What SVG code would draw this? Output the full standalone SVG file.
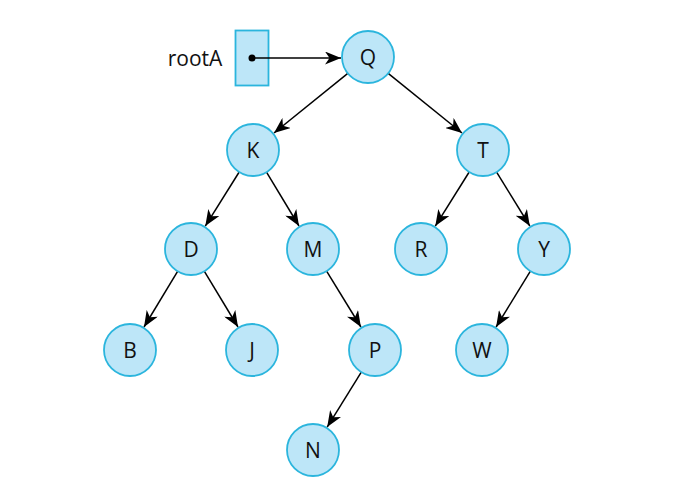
<svg xmlns="http://www.w3.org/2000/svg" width="700" height="498" viewBox="0 0 700 498">
<defs>
<marker id="ah" markerUnits="userSpaceOnUse" markerWidth="17" markerHeight="13" viewBox="0 0 17 13" refX="16" refY="6.5" orient="auto">
<path d="M0,0 L16,6.5 L0,13 L4.5,6.5 Z" fill="#000"/>
</marker>
<style>
.n circle{fill:#bde6f8;stroke:#2bb5dd;stroke-width:1.8}
.n text,.lbl{font-family:"Open Sans","Noto Sans","Liberation Sans",sans-serif;font-size:21px;fill:#111;text-anchor:middle;dominant-baseline:central}
.e line{stroke:#000;stroke-width:1.5;marker-end:url(#ah)}
</style>
</defs>
<rect width="700" height="498" fill="#fff"/>
<g id="rootA">
<text class="lbl" x="195" y="58">rootA</text>
<rect x="235.5" y="30.5" width="33" height="55" fill="#bde6f8" stroke="#2bb5dd" stroke-width="1.8"/>
<circle cx="252" cy="58" r="3.5" fill="#000"/>
</g>
<g id="connectors" class="e">
<line x1="252" y1="58" x2="341" y2="58"/>
<line x1="347.8" y1="73.4" x2="274" y2="133"/>
<line x1="388.2" y1="73.4" x2="462" y2="133"/>
<line x1="239.2" y1="172" x2="205.3" y2="226.1"/>
<line x1="266.5" y1="172.2" x2="299" y2="226"/>
<line x1="469.2" y1="172" x2="435.3" y2="226.1"/>
<line x1="496.6" y1="172.1" x2="529.8" y2="226"/>
<line x1="177.6" y1="271.3" x2="144" y2="327"/>
<line x1="204.4" y1="271.3" x2="238" y2="327"/>
<line x1="326.6" y1="271.2" x2="360.9" y2="327"/>
<line x1="530.4" y1="271.2" x2="496.1" y2="327"/>
<line x1="361.3" y1="372.1" x2="327.2" y2="427.1"/>
</g>
<g id="Q" class="n"><circle cx="368" cy="57" r="26"/><text x="368" y="57">Q</text></g>
<g id="K" class="n"><circle cx="253" cy="150" r="26"/><text x="253" y="150">K</text></g>
<g id="T" class="n"><circle cx="483" cy="150" r="26"/><text x="483" y="150">T</text></g>
<g id="D" class="n"><circle cx="191" cy="249" r="26"/><text x="191" y="249">D</text></g>
<g id="M" class="n"><circle cx="313" cy="249" r="26"/><text x="313" y="249">M</text></g>
<g id="R" class="n"><circle cx="421" cy="249" r="26"/><text x="421" y="249">R</text></g>
<g id="Y" class="n"><circle cx="544" cy="249" r="26"/><text x="544" y="249">Y</text></g>
<g id="B" class="n"><circle cx="130" cy="350" r="26"/><text x="130" y="350">B</text></g>
<g id="J" class="n"><circle cx="252" cy="350" r="26"/><text x="252" y="350">J</text></g>
<g id="P" class="n"><circle cx="375" cy="350" r="26"/><text x="375" y="350">P</text></g>
<g id="W" class="n"><circle cx="482" cy="350" r="26"/><text x="482" y="350">W</text></g>
<g id="N" class="n"><circle cx="313" cy="450" r="26"/><text x="313" y="450">N</text></g>
</svg>
